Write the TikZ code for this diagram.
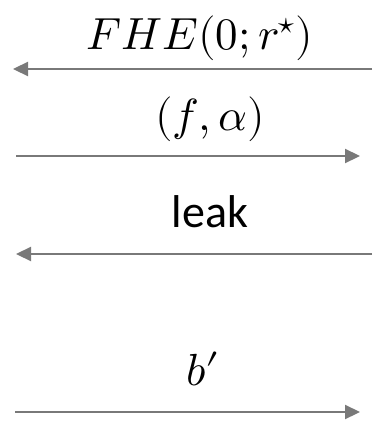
\documentclass[tikz,border=0pt]{standalone}
\usepackage{fontspec}
\usepackage{unicode-math}
\setmathfont{Latin Modern Math}
\newfontfamily\labelfont{Carlito}
\usetikzlibrary{arrows.meta}
\begin{document}
\begin{tikzpicture}[x=1pt,y=1pt,
  msg/.style={draw=gray!95!black, line width=2.2pt, -{Triangle[length=15pt,width=14pt]}},
  lbl/.style={anchor=base, inner sep=0pt, font=\fontsize{45}{54}\selectfont}]
\useasboundingbox (0,0) rectangle (372,-425);
\coordinate (a1s) at (372,-69);  \coordinate (a1e) at (13,-69);
\coordinate (a2s) at (16,-156);  \coordinate (a2e) at (360,-156);
\coordinate (a3s) at (372,-254); \coordinate (a3e) at (16,-254);
\coordinate (a4s) at (15,-412);  \coordinate (a4e) at (360,-412);
\draw[msg] (a1s) -- (a1e);
\draw[msg] (a2s) -- (a2e);
\draw[msg] (a3s) -- (a3e);
\draw[msg] (a4s) -- (a4e);
\node[lbl] (l1) at (200,-50) {$FHE(0;r^{\star})$};
\node[lbl] (l2) at (210,-130) {$(f,\alpha)$};
\node[lbl, font=\fontsize{46}{54}\labelfont] (l3) at (210,-227) {leak};
\node[lbl] (l4) at (203,-385) {$b\mathord{\prime}$};
\end{tikzpicture}
\end{document}
